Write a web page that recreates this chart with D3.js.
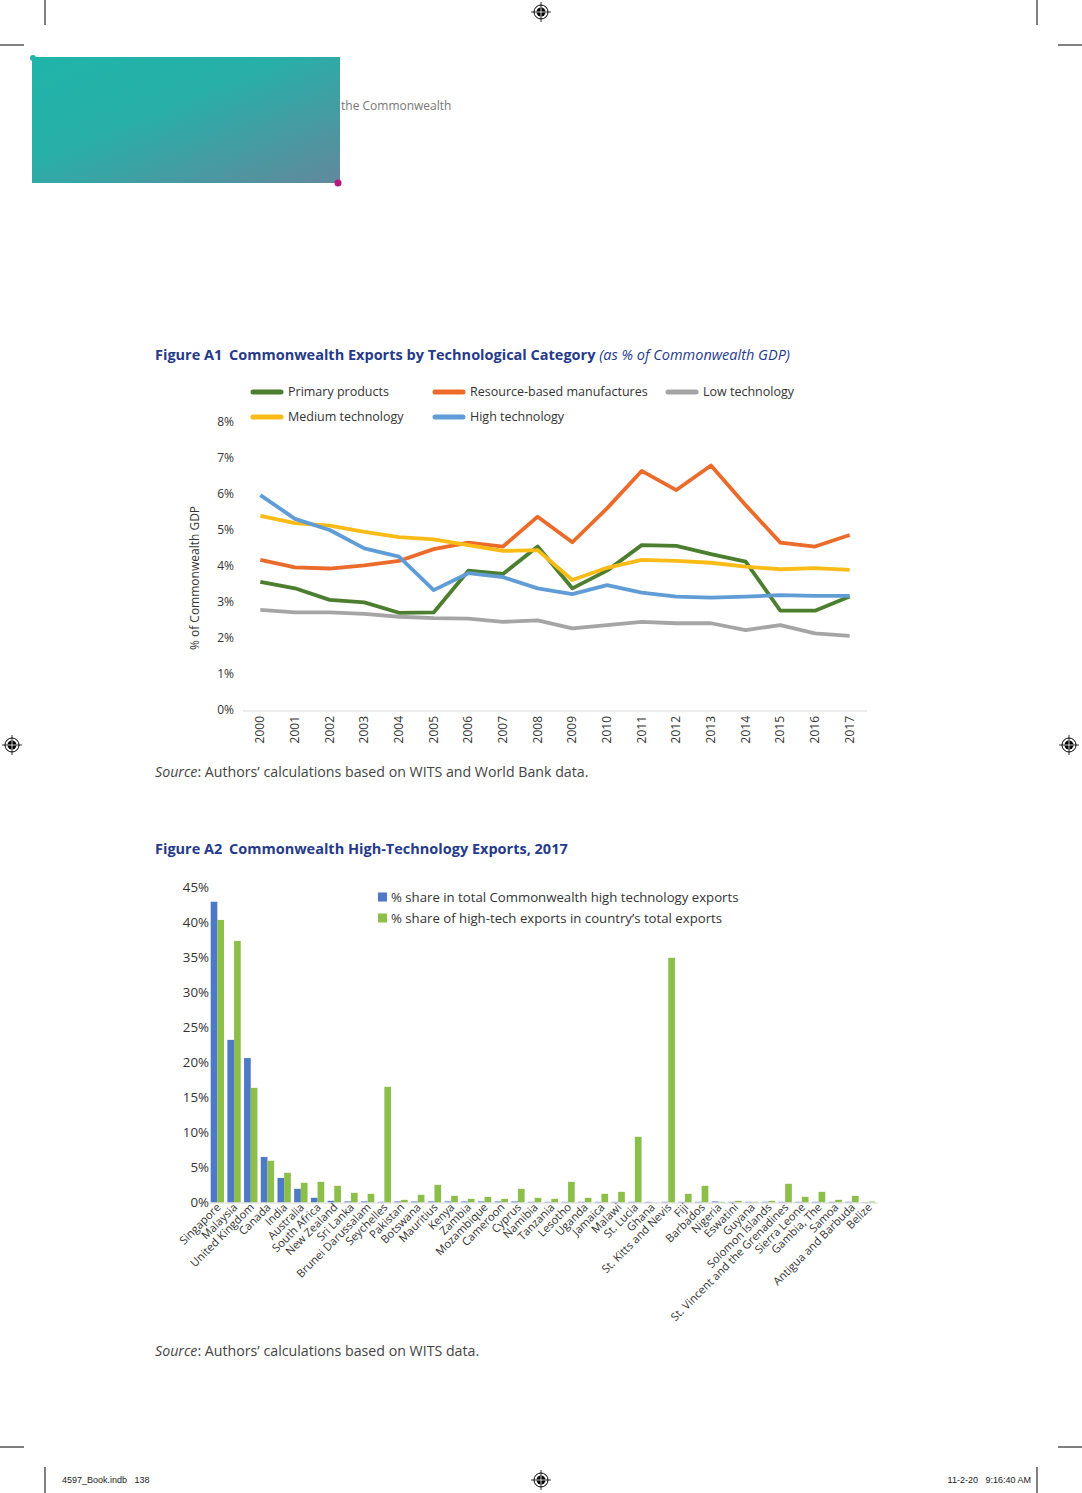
<!DOCTYPE html>
<meta charset="utf-8">
<script src="https://cdnjs.cloudflare.com/ajax/libs/d3/7.8.5/d3.min.js"></script>
<style>
body { margin: 0; background: #fff; }
svg { display: block; font-family: "Open Sans", Lato, sans-serif; }
.tick-label { font-size: 12px; fill: #333; }
.title { font-size: 14.5px; fill: #263a8a; font-weight: bold; }
.source { font-size: 14.2px; fill: #444; }
.legend { font-size: 12.5px; fill: #333; }
</style>
<body>
<script>

// ---- Figure A1 data ----
var years = d3.range(2000, 2018);
var primary   = [3.56, 3.38, 3.06, 2.99, 2.70, 2.71, 3.87, 3.78, 4.54, 3.38, 3.87, 4.58, 4.56, 4.33, 4.12, 2.76, 2.76, 3.15];
var resource  = [4.17, 3.96, 3.93, 4.02, 4.14, 4.47, 4.65, 4.54, 5.37, 4.66, 5.60, 6.64, 6.11, 6.79, 5.69, 4.65, 4.54, 4.86];
var lowTech   = [2.78, 2.71, 2.71, 2.67, 2.59, 2.55, 2.54, 2.45, 2.49, 2.27, 2.36, 2.45, 2.41, 2.41, 2.22, 2.36, 2.13, 2.06];
var mediumTech = [5.39, 5.19, 5.12, 4.95, 4.80, 4.74, 4.58, 4.42, 4.44, 3.61, 3.95, 4.17, 4.14, 4.09, 3.98, 3.91, 3.94, 3.89];
var highTech  = [5.97, 5.31, 5.00, 4.49, 4.26, 3.33, 3.80, 3.69, 3.38, 3.22, 3.47, 3.26, 3.15, 3.12, 3.15, 3.19, 3.17, 3.17];
var a1Ticks = [0, 1, 2, 3, 4, 5, 6, 7, 8];

// ---- Figure A2 data ----
var countries = ["Singapore", "Malaysia", "United Kingdom", "Canada", "India", "Australia", "South Africa",
  "New Zealand", "Sri Lanka", "Brunei Darussalam", "Seychelles", "Pakistan", "Botswana", "Mauritius",
  "Kenya", "Zambia", "Mozambique", "Cameroon", "Cyprus", "Namibia", "Tanzania", "Lesotho", "Uganda",
  "Jamaica", "Malawi", "St. Lucia", "Ghana", "St. Kitts and Nevis", "Fiji", "Barbados", "Nigeria",
  "Eswatini", "Guyana", "Solomon Islands", "St. Vincent and the Grenadines", "Sierra Leone",
  "Gambia, The", "Samoa", "Antigua and Barbuda", "Belize"];
var shareCommonwealth = [42.9, 23.2, 20.6, 6.5, 3.5, 1.95, 0.67, 0.24, 0.15, 0.15, 0.1, 0.15, 0.15, 0.15,
  0.15, 0.15, 0.15, 0.15, 0.15, 0.1, 0.1, 0.1, 0.1, 0.1, 0.1, 0.1, 0.1, 0.1, 0.1, 0.1, 0.15,
  0.1, 0.1, 0.1, 0.1, 0.1, 0.1, 0.1, 0.1, 0.05];
var shareCountry = [40.3, 37.3, 16.35, 5.95, 4.24, 2.81, 2.95, 2.38, 1.38, 1.24, 16.5, 0.38, 1.1, 2.52,
  0.95, 0.52, 0.81, 0.52, 1.95, 0.67, 0.52, 2.95, 0.67, 1.24, 1.52, 9.37, 0.05, 34.9, 1.24, 2.38, 0.1,
  0.24, 0.1, 0.24, 2.67, 0.81, 1.52, 0.38, 0.95, 0.14];
var a2Ticks = [0, 5, 10, 15, 20, 25, 30, 35, 40, 45];

var width = 1082, height = 1493;

var svg = d3.select("body").append("svg")
    .attr("width", width)
    .attr("height", height);

// ---- page furniture: crop marks, registration marks, header box ----
var crops = [[45, 0, 45, 25], [0, 45, 24, 45], [1037, 0, 1037, 25], [1058, 45, 1082, 45],
             [0, 1447, 24, 1447], [1058, 1447, 1082, 1447], [45, 1467, 45, 1493], [1037, 1467, 1037, 1493]];
svg.selectAll("line.crop").data(crops).enter().append("line")
    .attr("class", "crop")
    .attr("x1", function(d) { return d[0]; }).attr("y1", function(d) { return d[1]; })
    .attr("x2", function(d) { return d[2]; }).attr("y2", function(d) { return d[3]; })
    .attr("stroke", "#000").attr("stroke-width", 1);

var regs = [[541, 12], [12, 745], [1069, 745], [541, 1480]];
var reg = svg.selectAll("g.reg").data(regs).enter().append("g")
    .attr("class", "reg")
    .attr("transform", function(d) { return "translate(" + d[0] + "," + d[1] + ")"; });
reg.append("circle").attr("r", 7).attr("fill", "none").attr("stroke", "#000").attr("stroke-width", 1);
reg.append("circle").attr("r", 4.5).attr("fill", "#000");
reg.append("path").attr("d", "M-10,0H10M0,-10V10").attr("stroke", "#000").attr("stroke-width", 0.8);
reg.append("path").attr("d", "M-4.5,0H4.5M0,-4.5V4.5").attr("stroke", "#fff").attr("stroke-width", 0.8);

var defs = svg.append("defs");
var grad = defs.append("linearGradient").attr("id", "headGrad")
    .attr("x1", "0%").attr("y1", "0%").attr("x2", "100%").attr("y2", "100%");
grad.append("stop").attr("offset", "0%").attr("stop-color", "#20b4a9");
grad.append("stop").attr("offset", "40%").attr("stop-color", "#27b0a8");
grad.append("stop").attr("offset", "100%").attr("stop-color", "#62889d");

svg.append("rect").attr("x", 32).attr("y", 57).attr("width", 308).attr("height", 126)
    .attr("fill", "url(#headGrad)");
svg.append("circle").attr("cx", 33).attr("cy", 58).attr("r", 3).attr("fill", "#20b4a9");
svg.append("circle").attr("cx", 338).attr("cy", 183).attr("r", 3.5).attr("fill", "#b3197f");
svg.append("text").attr("x", 341).attr("y", 110).attr("font-size", 12).attr("fill", "#777")
    .text("the Commonwealth");

svg.append("text").attr("x", 62).attr("y", 1483).attr("font-size", 9)
    .attr("font-family", "Liberation Sans Narrow, Liberation Sans, sans-serif").attr("fill", "#222")
    .attr("xml:space", "preserve").text("4597_Book.indb   138");
svg.append("text").attr("x", 1031).attr("y", 1483).attr("font-size", 9).attr("text-anchor", "end")
    .attr("font-family", "Liberation Sans Narrow, Liberation Sans, sans-serif").attr("fill", "#222")
    .attr("xml:space", "preserve").text("11-2-20   9:16:40 AM");

// ---- Figure A1 ----
var t1 = svg.append("text").attr("class", "title").attr("x", 155).attr("y", 360);
t1.append("tspan").text("Figure A1");
t1.append("tspan").attr("x", 229).text("Commonwealth Exports by Technological Category ");
t1.append("tspan").attr("font-style", "italic").attr("font-weight", "normal").text("(as % of Commonwealth GDP)");

var x1 = d3.scalePoint().domain(years).range([243, 867]).padding(0.5);
var y1 = d3.scaleLinear().domain([0, 8]).range([710, 422]);

svg.append("line").attr("x1", 243).attr("x2", 867).attr("y1", y1(0) + 1).attr("y2", y1(0) + 1)
    .attr("stroke", "#d9d9d9").attr("stroke-width", 1);

svg.selectAll("text.y1").data(a1Ticks).enter().append("text")
    .attr("class", "tick-label y1")
    .attr("x", 234).attr("y", function(d) { return y1(d); })
    .attr("dy", "0.35em").attr("text-anchor", "end")
    .text(function(d) { return d + "%"; });

svg.selectAll("text.x1").data(years).enter().append("text")
    .attr("class", "tick-label x1")
    .attr("transform", function(d) { return "translate(" + (x1(d) + 4) + ",716) rotate(-90)"; })
    .attr("text-anchor", "end")
    .text(function(d) { return d; });

svg.append("text").attr("class", "tick-label")
    .attr("transform", "translate(199,578) rotate(-90)")
    .attr("text-anchor", "middle")
    .text("% of Commonwealth GDP");

var series1 = [
  { name: "Low technology", values: lowTech, color: "#a5a5a5" },
  { name: "Primary products", values: primary, color: "#4c7e2f" },
  { name: "Resource-based manufactures", values: resource, color: "#eb6b2a" },
  { name: "Medium technology", values: mediumTech, color: "#fbbb16" },
  { name: "High technology", values: highTech, color: "#609dd6" }
];

var line1 = d3.line()
    .x(function(d, i) { return x1(years[i]); })
    .y(function(d) { return y1(d); });

svg.selectAll("path.s1").data(series1).enter().append("path")
    .attr("class", "s1")
    .attr("d", function(d) { return line1(d.values); })
    .attr("fill", "none")
    .attr("stroke", function(d) { return d.color; })
    .attr("stroke-width", 3.8)
    .attr("stroke-linejoin", "round");

var legend1 = [
  { name: "Primary products", color: "#4c7e2f", x: 252, y: 392 },
  { name: "Resource-based manufactures", color: "#eb6b2a", x: 434, y: 392 },
  { name: "Low technology", color: "#a5a5a5", x: 667, y: 392 },
  { name: "Medium technology", color: "#fbbb16", x: 252, y: 417 },
  { name: "High technology", color: "#609dd6", x: 434, y: 417 }
];
var lg1 = svg.selectAll("g.lg1").data(legend1).enter().append("g")
    .attr("class", "lg1")
    .attr("transform", function(d) { return "translate(" + d.x + "," + d.y + ")"; });
lg1.append("line").attr("x1", 1).attr("x2", 29).attr("stroke", function(d) { return d.color; })
    .attr("stroke-width", 5).attr("stroke-linecap", "round");
lg1.append("text").attr("class", "legend").attr("x", 36).attr("dy", "0.35em")
    .text(function(d) { return d.name; });

var s1 = svg.append("text").attr("class", "source").attr("x", 155).attr("y", 777);
s1.append("tspan").attr("font-style", "italic").text("Source");
s1.append("tspan").text(": Authors\u2019 calculations based on WITS and World Bank data.");

// ---- Figure A2 ----
var t2 = svg.append("text").attr("class", "title").attr("x", 155).attr("y", 854);
t2.append("tspan").text("Figure A2");
t2.append("tspan").attr("x", 229).text("Commonwealth High-Technology Exports, 2017");

var x2 = d3.scaleBand().domain(countries).range([209, 877]).paddingInner(0.2).paddingOuter(0.1);
var xs = d3.scaleBand().domain(["a", "b"]).range([0, x2.bandwidth()]);
var y2 = d3.scaleLinear().domain([0, 45]).range([1202.5, 887]);

svg.selectAll("text.y2").data(a2Ticks).enter().append("text")
    .attr("class", "tick-label y2")
    .attr("x", 209).attr("y", function(d) { return y2(d); })
    .attr("dy", "0.35em").attr("text-anchor", "end")
    .style("font-size", "13.3px")
    .text(function(d) { return d + "%"; });

var grp = svg.selectAll("g.country").data(countries).enter().append("g")
    .attr("class", "country")
    .attr("transform", function(d) { return "translate(" + x2(d) + ",0)"; });

grp.append("rect")
    .attr("x", xs("a")).attr("width", xs.bandwidth())
    .attr("y", function(d, i) { return y2(shareCommonwealth[i]); })
    .attr("height", function(d, i) { return y2(0) - y2(shareCommonwealth[i]); })
    .attr("fill", "#4e79c6");
grp.append("rect")
    .attr("x", xs("b")).attr("width", xs.bandwidth())
    .attr("y", function(d, i) { return y2(shareCountry[i]); })
    .attr("height", function(d, i) { return y2(0) - y2(shareCountry[i]); })
    .attr("fill", "#8cbf4a");

svg.append("line").attr("x1", 209).attr("x2", 878).attr("y1", y2(0) + 0.5).attr("y2", y2(0) + 0.5)
    .attr("stroke", "#d9d9d9").attr("stroke-width", 1);

svg.selectAll("text.x2").data(countries).enter().append("text")
    .attr("class", "tick-label x2")
    .style("font-size", "11.2px")
    .attr("transform", function(d) {
      return "translate(" + (x2(d) + x2.bandwidth() / 2 + 4) + ",1208) rotate(-45)";
    })
    .attr("text-anchor", "end")
    .text(function(d) { return d; });

var legend2 = [
  { name: "% share in total Commonwealth high technology exports", color: "#4e79c6", y: 897 },
  { name: "% share of high-tech exports in country\u2019s total exports", color: "#8cbf4a", y: 918 }
];
var lg2 = svg.selectAll("g.lg2").data(legend2).enter().append("g")
    .attr("class", "lg2")
    .attr("transform", function(d) { return "translate(378," + d.y + ")"; });
lg2.append("rect").attr("x", 0).attr("y", -4.5).attr("width", 9).attr("height", 9)
    .attr("fill", function(d) { return d.color; });
lg2.append("text").attr("class", "legend").attr("x", 13).attr("dy", "0.35em")
    .style("font-size", "13.2px")
    .text(function(d) { return d.name; });

var s2 = svg.append("text").attr("class", "source").attr("x", 155).attr("y", 1356);
s2.append("tspan").attr("font-style", "italic").text("Source");
s2.append("tspan").text(": Authors\u2019 calculations based on WITS data.");

</script>
